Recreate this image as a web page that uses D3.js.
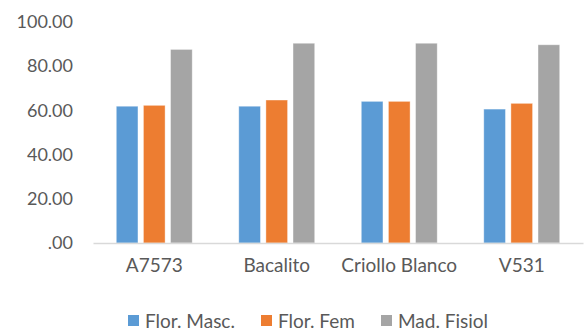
<!DOCTYPE html>
<html>
<head>
<meta charset="utf-8">
<script src="https://cdn.jsdelivr.net/npm/d3@7"></script>
<style>
  html, body { margin: 0; padding: 0; background: #fff; }
  svg text { font-family: Lato, "Open Sans", sans-serif; fill: #595959; }
</style>
</head>
<body>
<svg id="chart" width="584" height="331"></svg>
<script>
// Varieties and the three measured traits (days)
const categories = ["A7573", "Bacalito", "Criollo Blanco", "V531"];
const seriesNames = ["Flor. Masc.", "Flor. Fem", "Mad. Fisiol"];
const florMasc = [61.9, 61.9, 64.1, 60.6];
const florFem = [62.3, 64.7, 64.1, 63.2];
const madFisiol = [87.6, 90.4, 90.4, 89.7];
const yTicks = [0, 20, 40, 60, 80, 100];
const colors = ["#5B9BD5", "#ED7D31", "#A5A5A5"];

const seriesValues = [florMasc, florFem, madFisiol];
const rows = categories.map((c, i) => ({
  category: c,
  values: seriesNames.map((s, j) => ({ key: s, value: seriesValues[j][i], idx: j }))
}));

const svg = d3.select("#chart");
const margin = { left: 93, right: 1, top: 22, bottom: 88 };
const width = 584, height = 331;
const x0 = d3.scaleBand().domain(categories).range([margin.left, width - margin.right]).paddingInner(0.38).paddingOuter(0.19);
const x1 = d3.scaleBand().domain(seriesNames).range([0, x0.bandwidth()]).paddingInner(0.2);
const y = d3.scaleLinear().domain([0, 100]).range([height - margin.bottom, margin.top]);

const fmt = v => v === 0 ? ".00" : d3.format(".2f")(v);

// Y axis labels (no axis line)
const yAxis = d3.axisLeft(y).tickValues(yTicks).tickFormat(fmt).tickSize(0).tickPadding(0);
svg.append("g")
  .attr("transform", `translate(73,0)`)
  .call(yAxis)
  .call(g => g.select(".domain").remove())
  .call(g => g.selectAll("text").attr("font-size", 18).attr("font-family", null).attr("fill", "#595959"));

// Bars
const groups = svg.append("g").selectAll("g").data(rows).join("g")
  .attr("transform", d => `translate(${x0(d.category)},0)`);
groups.selectAll("rect").data(d => d.values).join("rect")
  .attr("x", d => x1(d.key))
  .attr("width", x1.bandwidth())
  .attr("y", d => y(d.value))
  .attr("height", d => y(0) - y(d.value))
  .attr("fill", d => colors[d.idx])
  .attr("stroke", "#ffffff")
  .attr("stroke-opacity", 0.5)
  .attr("stroke-width", 0.8);

// X axis baseline and category labels
const xAxis = d3.axisBottom(x0).tickSize(0).tickPadding(16);
svg.append("g")
  .attr("transform", `translate(0,${y(0)})`)
  .call(xAxis)
  .call(g => g.select(".domain").attr("stroke", "#D9D9D9").attr("stroke-width", 1.3))
  .call(g => g.selectAll("text").attr("font-size", 19).attr("font-family", null).attr("fill", "#595959"));

// Legend
const legendX = [128, 261, 381];
const legend = svg.append("g").selectAll("g").data(seriesNames).join("g")
  .attr("transform", (d, i) => `translate(${legendX[i]},321)`);
legend.append("rect").attr("x", 0).attr("y", -6).attr("width", 11).attr("height", 11)
  .attr("fill", (d, i) => colors[i]);
legend.append("text").attr("x", 17).attr("y", 0).attr("dy", "0.35em")
  .attr("font-size", 19).text(d => d);
</script>
</body>
</html>
